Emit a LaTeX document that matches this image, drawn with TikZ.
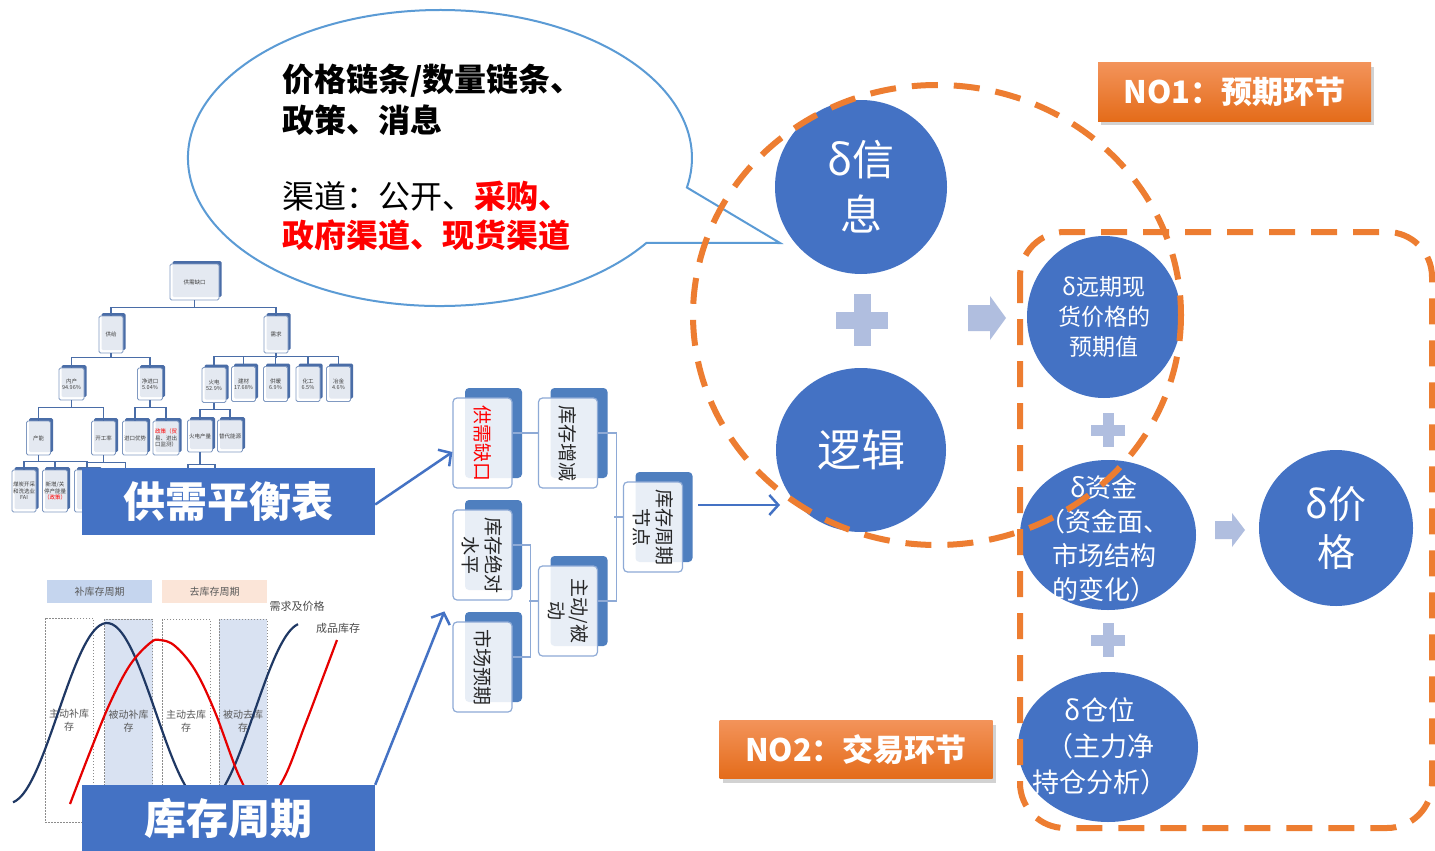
\documentclass[tikz,border=0pt]{standalone}
\usepackage{fontspec}
\setmainfont{Noto Sans CJK SC}
\usetikzlibrary{arrows.meta,shadows,shapes.geometric}
\definecolor{cblue}{HTML}{4472C4}
\definecolor{bubble}{HTML}{5B9BD5}
\definecolor{dorange}{HTML}{ED7D31}
\definecolor{lplus}{HTML}{B0BEDF}
\definecolor{stkb}{HTML}{4F7FBF}
\definecolor{stkl}{HTML}{8EAAD6}
\definecolor{navy}{HTML}{1F3864}
\definecolor{tline}{HTML}{4A6DA7}
\definecolor{hbl}{HTML}{C5D5EE}
\definecolor{hpe}{HTML}{FBE5D8}
\definecolor{dfill}{HTML}{D9E2F2}
\definecolor{cred}{HTML}{E60000}
\definecolor{oa}{HTML}{F3935A}
\definecolor{ob}{HTML}{E46C1A}
\newcommand\fs[2]{\fontsize{#1}{#2}\selectfont}
\newcommand\tb[6]{%
  \node[tbback, minimum width=#4, minimum height=#5] at (#2+2.5,#3-3) {};
  \node[tbfront, minimum width=#4, minimum height=#5] (#1) at (#2,#3) {#6};}
\newcommand\stk[3]{%
  \node[stkback] at (#2+11,#3-10) {};
  \node[stkfront] (#1) at (#2,#3) {};}
\begin{document}
\begin{tikzpicture}[x=1pt,y=-1pt,
  tbback/.style={fill=tline, rounded corners=1.5, inner sep=0},
  tbfront/.style={draw=tline!70, line width=0.8, fill=white, fill opacity=0.85, text opacity=1,
    rounded corners=1.5, inner sep=0.5, align=center, font=\fs{5.5}{6.5}, text=black!75},
  tl/.style={draw=tline, line width=1.6},
  stkback/.style={fill=stkb, rounded corners=4, minimum width=57, minimum height=90, inner sep=0},
  stkfront/.style={draw=stkl, line width=1.2, fill=white, fill opacity=0.87, rounded corners=4,
    minimum width=59, minimum height=90, inner sep=0},
  stktext/.style={rotate=-90, align=center, font=\fs{19}{23}, text=black!85, inner sep=0},
  sl/.style={draw=stkl, line width=1.2},
  hdr/.style={minimum width=105, minimum height=23, inner sep=0, font=\fs{10}{12}, text=black!65},
  dbox/.style={draw=black!45, line width=1, dash pattern=on 1.5 off 1.5, minimum width=48,
    minimum height=204, inner sep=0, align=center, font=\fs{10}{13}, text=black!65},
  ctext/.style={font=\fs{11}{13}, text=black!70, inner sep=0},
  lbl/.style={fill=cblue, text=white, font=\bfseries\fs{42}{50}, minimum width=293, inner sep=0},
  barrow/.style={draw=cblue, line width=2.5, -{Straight Barb[length=9pt,width=20pt]}},
  circ/.style={ellipse, fill=cblue, inner sep=0},
  ctxt/.style={text=white, align=center, inner sep=0},
  odash/.style={draw=dorange, line width=6, dash pattern=on 26 off 16},
  nobox/.style={top color=oa, bottom color=ob, text=white, font=\bfseries\fs{31}{36},
    minimum width=273, minimum height=58, inner sep=0,
    drop shadow={opacity=0.35, shadow xshift=3pt, shadow yshift=-4pt}},
  btext/.style={anchor=west, inner sep=0, font=\fs{32}{36}}
]
\useasboundingbox (0,0) rectangle (1435,851);
\fill[white] (0,0) rectangle (1435,851);

% ---------- speech bubble ----------
\draw[bubble, line width=2, fill=white] (646.4,242.9) arc[start angle=35, end angle=371.5, x radius=252, y radius=148] -- (780,243) -- cycle;
\node[btext, font=\bfseries\fs{32}{36}] (b1) at (282,81) {价格链条/数量链条、};
\node[btext, font=\bfseries\fs{32}{36}] (b2) at (282,120) {政策、消息};
\node[btext] (b3) at (282,196) {渠道：公开、{\bfseries\color{red}采购、}};
\node[btext, font=\bfseries\fs{32}{36}, text=red] (b4) at (282,235) {政府渠道、现货渠道};

% ---------- supply-demand tree ----------
\tb{root}{194.5}{282}{49}{36}{供需缺口}
\tb{gy}{111}{334.5}{24}{37}{供给}
\tb{xq}{276}{334.5}{24}{37}{需求}
\tb{nc}{71.5}{384}{25}{32}{内产\\94.96\%}
\tb{jk}{150}{384}{25}{32}{净进口\\5.04\%}
\tb{hd}{214}{385}{24}{35}{火电\\52.9\%}
\tb{jc}{243.5}{384}{24}{35}{建材\\17.68\%}
\tb{gn}{275.5}{384}{24}{35}{供暖\\6.9\%}
\tb{hg}{308}{384}{24}{35}{化工\\6.5\%}
\tb{yj}{338.5}{384}{24}{35}{冶金\\4.6\%}
\tb{cn}{38.5}{438}{24}{34}{产能}
\tb{kg}{103.5}{438}{24}{34}{开工率}
\tb{jy}{135}{438}{25}{34}{进口优势}
\tb{zc}{166}{438}{26}{34}{\color{red}政策（贸\\易、进出\\口监测）}
\tb{hdc}{200}{436}{25}{32}{火电产量}
\tb{td}{230}{436}{25}{32}{替代能源}
\tb{ma}{24}{491}{24}{42}{煤炭开采\\和洗选业\\FAI}
\tb{mb}{55}{491}{25}{42}{新增/关\\停产能量\\\color{red}（政策）}
\tb{mc}{87}{491}{25}{42}{}
\draw[tl] (root.south) -- ++(0,8);
\draw[tl] (gy.north) -- ++(0,-8) -| (xq.north);
\draw[tl] (gy.south) -- ++(0,5);
\draw[tl] (nc.north) -- ++(0,-10) -| (jk.north);
\draw[tl] (xq.south) -- ++(0,4.5);
\draw[tl] (hd.north) -- ++(0,-10.5) -| (yj.north);
\draw[tl] (jc.north) -- ++(0,-10);
\draw[tl] (gn.north) -- ++(0,-10);
\draw[tl] (hg.north) -- ++(0,-10);
\draw[tl] (nc.south) -- ++(0,8);
\draw[tl] (cn.north) -- ++(0,-13) -| (kg.north);
\draw[tl] (jk.south) -- ++(0,8);
\draw[tl] (jy.north) -- ++(0,-13) -| (zc.north);
\draw[tl] (hd.south) -- ++(0,7.5);
\draw[tl] (hdc.north) -- ++(0,-10) -| (td.north);
\draw[tl] (cn.south) -- ++(0,7);
\draw[tl] (ma.north) -- ++(0,-8) -| (mc.north);
\draw[tl] (mb.north) -- ++(0,-8);
\draw[tl] (kg.south) -- ++(0,7) -- ++(22,0) -- ++(0,10);
\draw[tl] (kg.south) ++(0,7) -- ++(-16,0) -- ++(0,10);
\draw[tl] (hdc.south) -- ++(0,12);
\draw[tl] (hdc.south) ++(0,12) -- ++(-12,0) -- ++(0,10);
\draw[tl] (hdc.south) ++(0,12) -- ++(15,0) -- ++(0,10);

% ---------- inventory cycle chart ----------
\node[hdr, fill=hbl] (h1) at (99.5,591.5) {补库存周期};
\node[hdr, fill=hpe] (h2) at (214.5,591.5) {去库存周期};
\node[dbox] (d1) at (69,720) {主动补库\\存};
\node[dbox, fill=dfill] (d2) at (128.5,721) {被动补库\\存};
\node[dbox] (d3) at (186,721) {主动去库\\存};
\node[dbox, fill=dfill] (d4) at (243,721) {被动去库\\存};
\draw[navy, line width=2.2] plot[domain=13:298, samples=90, smooth] (\x, {713-90*cos(1.83673*(\x-107))});
\draw[cred, line width=2.2] plot[smooth, tension=0.6] coordinates {(70,804) (90,752) (110,703) (130,665) (150,643) (160,640) (175,646) (195,670) (215,712) (240,778) (260,806) (283,780) (305,725) (322,680) (337,640)};
\node[ctext] (l1) at (297,606) {需求及价格};
\node[ctext] (l2) at (338,628) {成品库存};

% ---------- blue labels ----------
\node[lbl, minimum height=67] (gph) at (228.5,501.5) {供需平衡表};
\node[lbl, minimum height=66] (kc) at (228.5,818) {库存周期};

% ---------- stacked boxes ----------
\stk{gq}{482.5}{443}
\stk{zj}{568}{443}
\stk{jd}{482.5}{555}
\stk{sc}{482.5}{667}
\stk{zb}{568}{611}
\stk{jn}{653}{527}
\node[stktext, text=red] (gqt) at (gq) {供需缺口};
\node[stktext] (zjt) at (zj) {库存增减};
\node[stktext] (jdt) at (jd) {库存绝对\\水平};
\node[stktext] (sct) at (sc) {市场预期};
\node[stktext] (zbt) at (zb) {主动/被\\动};
\node[stktext] (jnt) at (jn) {库存周期\\节点};
\draw[sl] ([yshift=10pt]gq.east) -- ([yshift=10pt]zj.west);
\draw[sl] ([yshift=10pt]zj.east) -- ++(18,0) |- ([yshift=10pt]zb.east);
\draw[sl] ([yshift=10pt]jn.west) -- ++(-9,0);
\draw[sl] ([yshift=10pt]jd.east) -- ++(18,0) |- ([yshift=10pt]sc.east);
\draw[sl] ([yshift=10pt]zb.west) -- ++(-9,0);

% ---------- blue arrows ----------
\coordinate (ljin) at (780,505);
\draw[barrow] ([yshift=-3pt]gph.east) -- ([yshift=-9pt]gq.west);
\draw[barrow] (kc.north east) -- ([xshift=-8pt,yshift=10pt]sc.north west);
\draw[barrow] ([xshift=15pt,yshift=22pt]jn.east) -- (ljin);

% ---------- circles ----------
\node[circ, minimum width=172, minimum height=174] (xx) at (861,187) {};
\node[circ, minimum width=170, minimum height=164] (lj) at (861,450) {};
\node[circ, minimum width=154, minimum height=162] (yq) at (1104,317) {};
\node[circ, minimum width=176, minimum height=150] (zjc) at (1108,535) {};
\node[circ, minimum width=180, minimum height=150] (cw) at (1108,747) {};
\node[circ, minimum width=154, minimum height=156] (jg) at (1336,528) {};
\node[ctxt, font=\fs{42}{55}] (xxt) at (xx) {δ信\\息};
\node[ctxt, font=\fs{44}{50}] (ljt) at (lj) {逻辑};
\node[ctxt, font=\fs{23}{30}] (yqt) at (yq) {δ远期现\\货价格的\\预期值};
\node[ctxt, font=\fs{26}{34}] (zjct) at (1104,539) {δ资金\\（资金面、\\市场结构\\的变化）};
\node[ctxt, font=\fs{27}{36}] (cwt) at (1100,746) {δ仓位\\（主力净\\持仓分析）};
\node[ctxt, font=\fs{38}{48}] (jgt) at (jg) {δ价\\格};

% ---------- plus signs and block arrows ----------
\fill[lplus] (836,311.5) rectangle (888,328.5);
\fill[lplus] (853.5,294) rectangle (870.5,346);
\fill[lplus] (1091,424.5) rectangle (1125,435.5);
\fill[lplus] (1102.5,413) rectangle (1113.5,447);
\fill[lplus] (1091,634.5) rectangle (1125,645.5);
\fill[lplus] (1102.5,623) rectangle (1113.5,657);
\fill[lplus] (968,305) -- (990,305) -- (990,296) -- (1006,318) -- (990,340) -- (990,331) -- (968,331) -- cycle;
\fill[lplus] (1215,521) -- (1232,521) -- (1232,513) -- (1245,530) -- (1232,547) -- (1232,539) -- (1215,539) -- cycle;

% ---------- orange dashed outlines ----------
\draw[odash] (937,315) ellipse [x radius=244, y radius=230];
\draw[odash, rounded corners=45] (1020,232) rectangle (1432,828);

% ---------- orange labels ----------
\node[nobox] (no1) at (1234.5,92) {NO1：预期环节};
\node[nobox] (no2) at (856,749.5) {NO2：交易环节};
\end{tikzpicture}
\end{document}
